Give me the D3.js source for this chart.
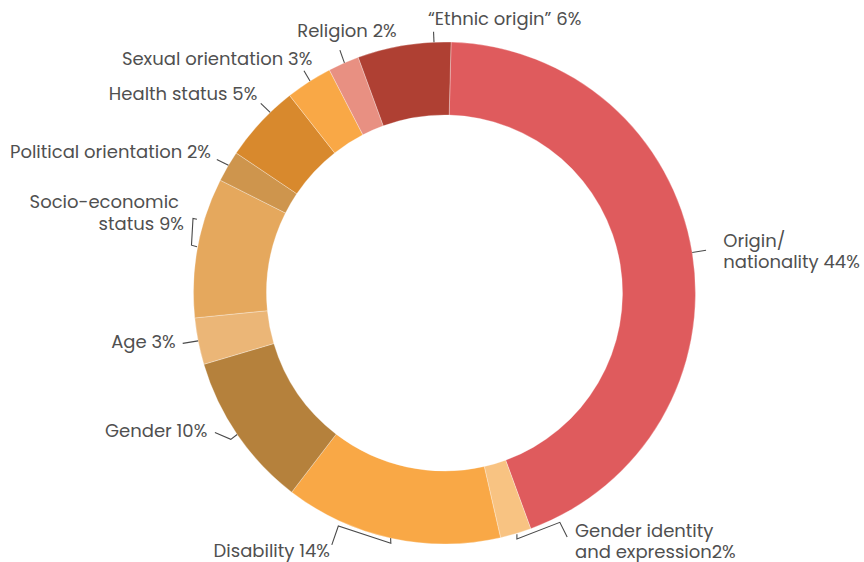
<!DOCTYPE html>
<html>
<head>
<meta charset="utf-8">
<script src="https://cdn.jsdelivr.net/npm/d3@7"></script>
<style>
  html, body { margin: 0; padding: 0; background: #fff; }
  svg { display: block; }
  text { font-family: Poppins, Inter, "DejaVu Sans", sans-serif; fill: #505050; }
</style>
</head>
<body>
<svg id="chart" width="864" height="562"></svg>
<script>
// ---- data ----
const categories = [
  "Origin/nationality", "Gender identity and expression", "Disability", "Gender", "Age",
  "Socio-economic status", "Political orientation", "Health status", "Sexual orientation",
  "Religion", "\u201CEthnic origin\u201D"
];
const shares = [44, 2, 14, 10, 3, 9, 2, 5, 3, 2, 6];
const labelLines = [
  ["Origin/", "nationality 44%"],
  ["Gender identity", "and expression2%"],
  ["Disability 14%"],
  ["Gender 10%"],
  ["Age 3%"],
  ["Socio-economic", "status 9%"],
  ["Political orientation 2%"],
  ["Health status 5%"],
  ["Sexual orientation 3%"],
  ["Religion 2%"],
  ["\u201CEthnic origin\u201D 6%"]
];

// ---- styles / layout ----
const colors = ["#DF5B5D", "#F8C382", "#F9A846", "#B5813C", "#EBB677", "#E5A85D",
                "#CE954D", "#D8892D", "#F9A846", "#E89082", "#AF4033"];
const W = 864, H = 562;
const cx = 444.5, cy = 293, R = 251, r0 = 178;
const startDeg = 1.5;
const fontSize = 18;
const lineGap = 21.6;

// label placement: x, y (first baseline), anchor, optional per-line dx
const labelLayout = [
  {x: 723.3, y: 246.7, anchor: "start"},
  {x: 575, y: 536.5, anchor: "start"},
  {x: 330, y: 556.5, anchor: "end"},
  {x: 207.3, y: 437.3, anchor: "end"},
  {x: 175.7, y: 347.7, anchor: "end"},
  {x: 184, y: 208.3, anchor: "end", dx: [-5, 0]},
  {x: 211, y: 157.7, anchor: "end"},
  {x: 257.3, y: 100, anchor: "end"},
  {x: 312.3, y: 65, anchor: "end"},
  {x: 396.7, y: 36.7, anchor: "end"},
  {x: 428, y: 25, anchor: "start"}
];
// leader polylines in polar form: [angle in degrees clockwise from top, radial offset from outer radius]
const leaderLayout = [
  [[80.7, 0], [80.7, 14]],
  [[163.3, 1], [163.6, 5.4], [153.3, 5.7], [153.3, 22]],
  [[204.1, 25], [204.5, 5], [192.1, 5], [192.4, 0]],
  [[238.7, 17.7], [235.6, 8], [235.7, 0]],
  [[259.1, 15.6], [259.0, 0]],
  [[286.6, 7.3], [286.5, 11.3], [280.7, 6.5], [280.6, 0.8]],
  [[300.4, 13], [300.6, 0]],
  [[315.9, 13], [316.0, 0]],
  [[327.7, 12], [327.6, 0]],
  [[336.7, 13.5], [336.5, 0]],
  [[357.6, 10.5], [357.6, 0]]
];

const svg = d3.select("#chart");
const g = svg.append("g").attr("transform", `translate(${cx},${cy})`);

const toRad = d => d * Math.PI / 180;
const pie = d3.pie().sort(null).value(d => d)
  .startAngle(toRad(startDeg)).endAngle(toRad(startDeg + 360));
const arcs = pie(shares);
const arc = d3.arc().innerRadius(r0).outerRadius(R);

g.selectAll("path.slice")
  .data(arcs)
  .enter().append("path")
  .attr("class", "slice")
  .attr("d", arc)
  .attr("fill", (d, i) => colors[i])
  .attr("stroke", "#ffffff")
  .attr("stroke-opacity", 0.5)
  .attr("stroke-width", 0.6);

// leaders
const polar = ([deg, off]) => {
  const a = toRad(deg), rr = R + off;
  return [rr * Math.sin(a), -rr * Math.cos(a)];
};
g.selectAll("path.leader")
  .data(leaderLayout)
  .enter().append("path")
  .attr("class", "leader")
  .attr("d", pts => d3.line()(pts.map(polar)))
  .attr("fill", "none")
  .attr("stroke", "#4a4a4a")
  .attr("stroke-width", 1.1);

// labels
const labels = svg.selectAll("text.lbl")
  .data(labelLines)
  .enter().append("text")
  .attr("class", "lbl")
  .attr("font-size", fontSize)
  .attr("text-anchor", (d, i) => labelLayout[i].anchor);
labels.each(function(lines, i) {
  const L = labelLayout[i];
  d3.select(this).selectAll("tspan")
    .data(lines)
    .enter().append("tspan")
    .attr("x", (t, j) => L.x + (L.dx ? L.dx[j] : 0))
    .attr("y", (t, j) => L.y + j * lineGap)
    .text(t => t);
});
</script>
</body>
</html>
